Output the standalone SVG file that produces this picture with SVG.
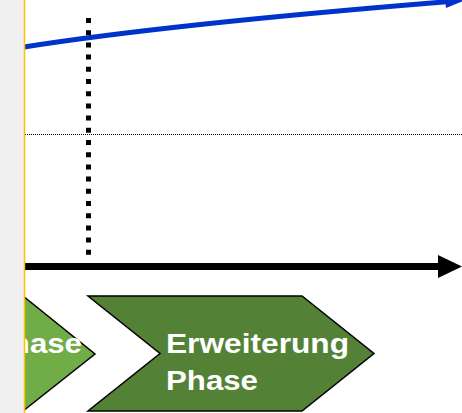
<svg xmlns="http://www.w3.org/2000/svg" width="462" height="413" viewBox="0 0 462 413">
<style>
.chev{stroke:#000;stroke-width:1.5;stroke-linejoin:miter}
.lbl{font-family:"Liberation Sans",Arial,sans-serif;font-weight:bold;font-size:27px;fill:#fff}
</style>
<rect width="462" height="413" fill="#fff"/>
<g id="connectors">
<path d="M24,47 Q170,24 456,1" fill="none" stroke="#0033CC" stroke-width="5"/>
<polygon points="446,8 468,-1 444,-10" fill="#0033CC"/>
<line x1="88.5" y1="18" x2="88.5" y2="258" stroke="#000" stroke-width="5" stroke-dasharray="5 7.2"/>
<line x1="25" y1="134.5" x2="462" y2="134.5" stroke="#000" stroke-width="1" stroke-dasharray="1 1"/>
<line x1="24" y1="266.5" x2="442" y2="266.5" stroke="#000" stroke-width="7"/>
<polygon points="438,255 462,266.5 438,278" fill="#000"/>
</g>
<g id="phase1">
<polygon class="chev" points="-50,296 23,296 95,354 23,411 -50,411" fill="#70AD47"/>
<text class="lbl" x="-10" y="353" textLength="92" lengthAdjust="spacingAndGlyphs">Phase</text>
</g>
<g id="phase2">
<polygon class="chev" points="88,296 302,296 374,353.5 302,411 88,411 160,353.5" fill="#538135"/>
<text class="lbl" x="166" y="353" textLength="183" lengthAdjust="spacingAndGlyphs">Erweiterung</text>
<text class="lbl" x="166" y="390" textLength="92" lengthAdjust="spacingAndGlyphs">Phase</text>
</g>
<rect x="0" y="0" width="24" height="413" fill="#F0F0F0"/>
<line x1="24.5" y1="0" x2="24.5" y2="413" stroke="#FFC000" stroke-width="1.5"/>
</svg>
